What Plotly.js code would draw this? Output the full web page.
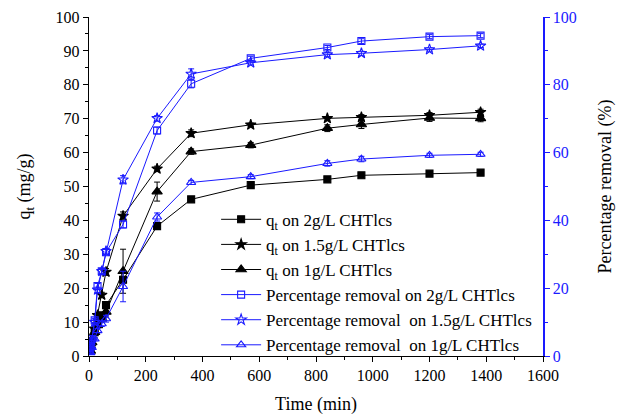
<!DOCTYPE html>
<html>
<head>
<meta charset="utf-8">
<script src="https://cdn.plot.ly/plotly-3.0.1.min.js"></script>
<style>html,body{margin:0;padding:0;background:#fff}#chart{width:625px;height:416px}</style>
</head>
<body>
<div id="chart"></div>
<script>
const time = [5, 10, 20, 30, 45, 60, 120, 240, 360, 570, 840, 960, 1200, 1380];
const q2 = [2, 4, 7, 10, 12, 15, 22.5, 38.3, 46.2, 50.4, 52.1, 53.3, 53.8, 54.1];
const q2err = [0.3, 0.3, 0.4, 0.5, 0.5, 0.6, 0.8, 0.6, 0.5, 0.5, 0.4, 0.4, 0.4, 0.4];
const q15 = [2, 5, 8, 12, 18, 24.8, 41.3, 55.2, 65.7, 68.2, 70.1, 70.4, 71, 71.9];
const q15err = [0.3, 0.4, 0.5, 0.6, 0.8, 1.0, 1.2, 0.8, 1.0, 0.5, 0.5, 0.8, 0.8, 0.9];
const q1 = [1.5, 4, 7, 9, 11, 13, 25, 48.5, 60.3, 62.2, 67.2, 68.3, 70.2, 70.1];
const q1err = [0.3, 0.4, 0.5, 0.6, 1.0, 1.5, 6.5, 2.8, 0.8, 0.8, 1.0, 1.2, 1.0, 1.0];
const r2 = [2.5, 5, 10.5, 20.6, 25, 30.6, 38.8, 66.5, 80.3, 87.8, 91, 92.9, 94.2, 94.5];
const r2err = [0.4, 0.5, 0.6, 0.8, 0.8, 0.8, 1.0, 1.0, 1.2, 0.6, 0.6, 0.7, 0.6, 0.6];
const r15 = [2, 4.5, 10, 19.5, 25, 30.9, 52, 70.1, 83.2, 86.5, 88.9, 89.3, 90.4, 91.5];
const r15err = [0.4, 0.5, 0.6, 0.8, 0.8, 0.8, 1.2, 0.8, 1.5, 0.6, 0.6, 0.6, 0.5, 0.5];
const r1 = [1, 2.5, 5, 7.5, 9.5, 11, 20.5, 41, 51.2, 52.9, 56.8, 58.1, 59.2, 59.5];
const r1err = [0.3, 0.4, 0.5, 0.6, 0.8, 1.0, 4.5, 1.2, 0.6, 0.6, 0.8, 0.8, 0.6, 0.6];

const names = [
  'q<sub>t</sub> on 2g/L CHTlcs',
  'q<sub>t</sub> on 1.5g/L CHTlcs',
  'q<sub>t</sub> on 1g/L CHTlcs',
  'Percentage removal on 2g/L CHTlcs',
  'Percentage removal  on 1.5g/L CHTlcs',
  'Percentage removal  on 1g/L CHTlcs'
];

function tr(y, err, name, color, symbol, size, axis) {
  return {
    x: time, y: y, name: name, type: 'scatter', mode: 'lines+markers',
    yaxis: axis,
    line: {color: color, width: 1},
    marker: {symbol: symbol, size: size, color: color, line: {color: color, width: 1.1}},
    error_y: {type: 'data', array: err, visible: true, color: color, thickness: 1, width: 3}
  };
}
const black = '#000000', blue = '#1a1aff';
const data = [
  tr(q2, q2err, names[0], black, 'square', 7, 'y'),
  tr(q15, q15err, names[1], black, 'star', 8, 'y'),
  tr(q1, q1err, names[2], black, 'triangle-up', 9, 'y'),
  tr(r2, r2err, names[3], blue, 'square-open', 7, 'y2'),
  tr(r15, r15err, names[4], blue, 'star-open', 8, 'y2'),
  tr(r1, r1err, names[5], blue, 'triangle-up-open', 8, 'y2')
];

const font = {family: '"Liberation Serif", "Times New Roman", serif', size: 16, color: '#000'};
const layout = {
  width: 625, height: 416,
  margin: {l: 89, r: 82, t: 17, b: 60},
  paper_bgcolor: '#fff', plot_bgcolor: '#fff',
  font: font,
  showlegend: true,
  legend: {
    x: 0.28, y: 0.455, xanchor: 'left', yanchor: 'top',
    bgcolor: 'rgba(0,0,0,0)', borderwidth: 0,
    font: {family: font.family, size: 17, color: '#000'},
    itemwidth: 40,
    tracegroupgap: 0
  },
  xaxis: {
    range: [0, 1600], dtick: 200, tick0: 0,
    showgrid: false, zeroline: false,
    showline: true, linecolor: '#000', linewidth: 1.2,
    ticks: 'outside', ticklen: 5, tickwidth: 1, tickcolor: '#000',
    minor: {dtick: 100, ticks: 'outside', ticklen: 3, tickcolor: '#000', showgrid: false},
    tickfont: {family: font.family, size: 16, color: '#000'},
    title: {text: 'Time (min)', font: {family: font.family, size: 18, color: '#000'}, standoff: 14}
  },
  yaxis: {
    range: [0, 100], dtick: 10, tick0: 0,
    showgrid: false, zeroline: false,
    showline: true, linecolor: '#000', linewidth: 1.2,
    ticks: 'outside', ticklen: 5, tickwidth: 1, tickcolor: '#000',
    minor: {dtick: 5, ticks: 'outside', ticklen: 3, tickcolor: '#000', showgrid: false},
    tickfont: {family: font.family, size: 16, color: '#000'},
    title: {text: 'q<sub>t</sub> (mg/g)', font: {family: font.family, size: 18, color: '#000'}, standoff: 20}
  },
  yaxis2: {
    overlaying: 'y', side: 'right',
    range: [0, 100], dtick: 20, tick0: 0,
    showgrid: false, zeroline: false,
    showline: true, linecolor: blue, linewidth: 1.5,
    ticks: 'outside', ticklen: 5, tickwidth: 1, tickcolor: blue,
    minor: {dtick: 10, ticks: 'outside', ticklen: 3, tickcolor: blue, showgrid: false},
    tickfont: {family: font.family, size: 16, color: blue},
    title: {text: 'Percentage removal (%)', font: {family: font.family, size: 18, color: '#000'}, standoff: 22}
  }
};
Plotly.newPlot('chart', data, layout, {displayModeBar: false, staticPlot: true});
</script>
</body>
</html>
